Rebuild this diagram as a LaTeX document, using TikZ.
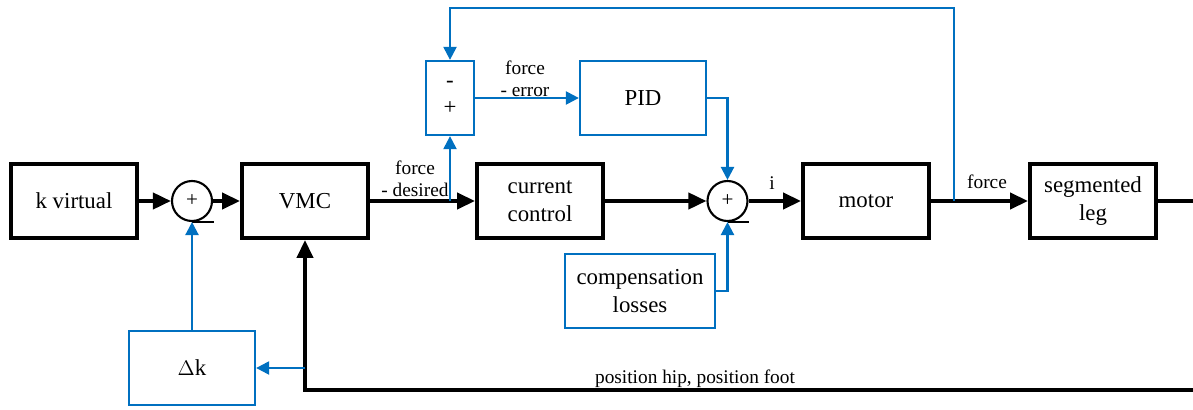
\documentclass[tikz,border=0pt]{standalone}
\usepackage{fontspec}
\setmainfont{Liberation Serif}
\usetikzlibrary{arrows.meta, positioning, calc}
\definecolor{cblue}{HTML}{0070C0}
\tikzset{
  every picture/.style={line width=2.2pt},
  box/.style={draw=black, line width=2.2pt, fill=white, align=center, minimum width=2.52cm, minimum height=1.48cm, inner sep=2pt, font=\fontsize{13}{15.6}\selectfont},
  sbox/.style={box, draw=cblue, line width=1.3pt},
  sum/.style={circle, draw=black, line width=1.2pt, minimum size=0.8cm, inner sep=0pt, font=\fontsize{12}{14}\selectfont},
  arrow/.style={-{Triangle[length=0.36cm, width=0.32cm]}, draw=black, line width=2.2pt},
  line/.style={draw=black, line width=2.2pt},
  barrow/.style={-{Triangle[length=0.26cm, width=0.26cm]}, draw=cblue, line width=1.3pt},
  lbl/.style={align=center, inner sep=0pt, font=\fontsize{11}{12.4}\selectfont},
}

\begin{document}
\begin{tikzpicture}
  \useasboundingbox (0,0) rectangle (23.86,-8.2);
  % main chain
  \node[box] (kvirt) at (1.48,-4.02) {k virtual};
  \node[sum] (sum1) at (3.84,-4.02) {+};
  \node[box] (vmc) at (6.10,-4.02) {VMC};
  \node[box] (cur) at (10.80,-4.02) {current\\control};
  \node[sum] (sum2) at (14.55,-4.02) {+};
  \node[box] (motor) at (17.32,-4.02) {motor};
  \node[box] (leg) at (21.86,-4.02) {segmented\\leg};
  % blue blocks
  \node[sbox, minimum width=0.96cm] (err) at (9.00,-1.96) {-\\+};
  \node[sbox] (pid) at (12.86,-1.96) {PID};
  \node[sbox, minimum width=3.0cm, minimum height=1.48cm] (comp) at (12.80,-5.82) {compensation\\losses};
  \node[sbox] (dk) at (3.84,-7.36) {$\Delta$k};
  % minus marks
  \draw[line width=1.2pt] (sum1.south) -- ++(0.43,0);
  \draw[line width=1.2pt] (sum2.south) -- ++(0.43,0);
  % free ends
  \coordinate (xend) at (23.86,-4.02);
  \coordinate (xbot) at (23.86,-7.8);
  \coordinate (fb) at (19.08,-4.02);
  \coordinate (ftop) at (19.08,-0.16);
  % black connectors
  \draw[arrow] (kvirt) -- (sum1);
  \draw[arrow] (sum1) -- (vmc);
  \draw[arrow] (vmc) -- (cur);
  \draw[arrow] (cur) -- (sum2);
  \draw[arrow] (sum2) -- (motor);
  \draw[arrow] (motor) -- (leg);
  \draw[line] (leg.east) -- (xend);
  \draw[arrow] (xbot) -| (vmc.south);
  % blue connectors
  \draw[barrow] (fb) -- (ftop) -| (err.north);
  \draw[barrow] (err.south |- vmc.east) -- (err.south);
  \draw[barrow] (err) -- (pid);
  \draw[barrow] (pid.east) -| (sum2.north);
  \draw[barrow] (comp.east) -| (sum2.south);
  \draw[barrow] (dk.north) -- (sum1.south);
  \draw[barrow] (vmc.south |- dk.east) -- (dk.east);
  % labels
  \node[lbl] (ldes) at (8.30,-3.58) {force\\- desired};
  \node[lbl] (lerr) at (10.50,-1.58) {force\\- error};
  \node[lbl] (li) at (15.44,-3.66) {i};
  \node[lbl] (lforce) at (19.74,-3.64) {force};
  \node[lbl] (lpos) at (13.90,-7.58) {position hip, position foot};
\end{tikzpicture}
\end{document}
